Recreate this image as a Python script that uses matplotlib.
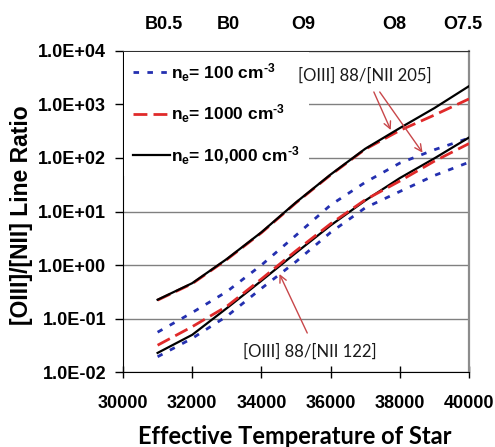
import matplotlib
matplotlib.use("Agg")
import matplotlib.pyplot as plt
from matplotlib.ticker import FuncFormatter, FixedLocator

plt.rcParams['font.family'] = ['Liberation Sans', 'DejaVu Sans']
plt.rcParams['mathtext.fontset'] = 'custom'
plt.rcParams['mathtext.bf'] = 'Liberation Sans:bold'
plt.rcParams['mathtext.rm'] = 'Liberation Sans:bold'
plt.rcParams['mathtext.default'] = 'bf'

# ---- data ----
temps = [31000, 32000, 33000, 34000, 35000, 36000, 37000, 38000, 39000, 40000]

# [OIII]88/[NII]205
r205_n100 = [0.056, 0.13, 0.32, 1.0, 3.6, 13.2, 35, 80, 142, 234]
r205_n1000 = [0.222, 0.45, 1.27, 4.0, 14.5, 48, 145, 325, 630, 1260]
r205_n10000 = [0.226, 0.46, 1.3, 4.1, 14.8, 49, 148, 360, 850, 2180]

# [OIII]88/[NII]122
r122_n100 = [0.0195, 0.043, 0.111, 0.367, 1.16, 4.07, 11.7, 23.6, 47, 83]
r122_n1000 = [0.032, 0.071, 0.17, 0.55, 1.85, 5.9, 16.5, 37, 87, 185]
r122_n10000 = [0.023, 0.050, 0.157, 0.51, 1.7, 5.5, 16, 42, 98, 240]

legend_labels = [r"n$_{e}$= 100 cm$^{\text{-3}}$", r"n$_{e}$= 1000 cm$^{\text{-3}}$",
                 r"n$_{e}$= 10,000 cm$^{\text{-3}}$"]

spec_temps = [31190, 33040, 35200, 37850, 39830]
spec_labels = ["B0.5", "B0", "O9", "O8", "O7.5"]

x_ticks = [30000, 32000, 34000, 36000, 38000, 40000]
y_ticks = [1e-2, 1e-1, 1e0, 1e1, 1e2, 1e3, 1e4]

blue = '#2430b0'
red = '#e02a2a'
black = '#000000'
arrow_c = '#c8474a'

fig = plt.figure(figsize=(4.95, 4.47), dpi=100)
ax = fig.add_axes([123/495, 1-372.3/447, 346/495, 321.6/447])

blue_ls = (0, (2.0, 3.0))
red_ls = (0, (5.0, 2.2))

lb, = ax.plot(temps, r205_n100, color=blue, lw=2.0, ls=blue_ls, zorder=3)
ax.plot(temps, r122_n100, color=blue, lw=2.0, ls=blue_ls, zorder=3)
ax.plot(temps, r205_n10000, color=black, lw=1.6, zorder=4)
ax.plot(temps, r122_n10000, color=black, lw=1.6, zorder=4)
lr, = ax.plot(temps, r205_n1000, color=red, lw=2.0, ls=red_ls, zorder=3.5)
ax.plot(temps, r122_n1000, color=red, lw=2.0, ls=red_ls, zorder=4.5)
lk, = ax.plot([], [], color=black, lw=1.6)

ax.set_yscale('log')
ax.set_xlim(30000, 40000)
ax.set_ylim(1e-2, 1e4)
ax.yaxis.set_major_locator(FixedLocator(y_ticks))
ax.yaxis.set_minor_locator(FixedLocator([]))
ax.yaxis.set_major_formatter(FuncFormatter(lambda v, p: f"{v:.1E}"))
ax.set_xticks(x_ticks)
ax.set_xticklabels([str(t) for t in x_ticks])
ax.grid(axis='y', color='#808080', lw=1.0, zorder=1)
ax.set_axisbelow(True)

ax.tick_params(axis='y', direction='out', length=6, width=1, pad=6, labelsize=13)
ax.tick_params(axis='x', direction='inout', length=8, width=1, pad=12, labelsize=13)
for lab in ax.get_xticklabels() + ax.get_yticklabels():
    lab.set_fontweight('bold')

ax.spines['left'].set_color('black')
ax.spines['bottom'].set_color('black')
ax.spines['top'].set_color('#303030')
ax.spines['right'].set_color('#8c8c8c')
ax.spines['right'].set_linewidth(1.6)

# top spectral-type axis
sec = ax.secondary_xaxis('top')
sec.set_xticks(spec_temps)
sec.set_xticklabels(spec_labels)
sec.tick_params(length=0, pad=13, labelsize=13)
for lab in sec.get_xticklabels():
    lab.set_fontweight('bold')
sec.spines['top'].set_visible(False)

ax.set_ylabel("[OIII]/[NII] Line Ratio", fontsize=16.5, fontweight='bold')
ax.yaxis.set_label_coords((21-123)/346, 0.49)
ax.yaxis.label.set_va('center')
ax.set_xlabel("Effective Temperature of Star", fontsize=17, fontweight='bold', family=['Lato', 'DejaVu Sans'])
ax.xaxis.set_label_coords(0.497, -(436-372.3)/321.6)
ax.xaxis.label.set_va('center')

leg = ax.legend([lb, lr, lk], legend_labels, loc='upper left', bbox_to_anchor=(0.0, 1.0),
                frameon=True, fancybox=False, framealpha=1, facecolor='white', edgecolor='none',
                prop={'weight': 'bold', 'size': 12.5}, handlelength=2.1, handletextpad=0.05,
                labelspacing=1.1, borderpad=0.55, borderaxespad=0.05)
leg.set_zorder(5)

# annotations
ann_font = dict(family=['Lato', 'DejaVu Sans'], size=12, color='#1a1a1a')
ax.text(36986, 3370, "[OIII] 88/[NII 205]", ha='center', va='center', zorder=6, **ann_font)
ax.text(35391, 10**-1.621, "[OIII] 88/[NII 122]", ha='center', va='center', zorder=6, **ann_font)
aprops = dict(arrowstyle='->,head_length=0.5,head_width=0.25', color=arrow_c, lw=1.0, shrinkA=0, shrinkB=0)
ax.annotate("", xy=(37739, 10**2.52), xytext=(37250, 10**3.23), arrowprops=aprops, zorder=6)
ax.annotate("", xy=(38658, 10**2.097), xytext=(37420, 10**3.23), arrowprops=aprops, zorder=6)
ax.annotate("", xy=(34522, 10**-0.166), xytext=(35325, 10**-1.267), arrowprops=aprops, zorder=6)

fig.savefig("out.png", dpi=100)
